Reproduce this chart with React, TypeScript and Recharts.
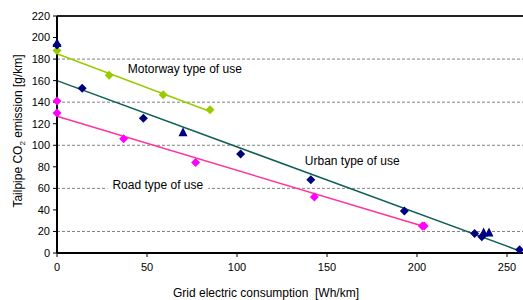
import {
  CartesianGrid,
  ComposedChart,
  Label,
  Line,
  ReferenceArea,
  ReferenceLine,
  Scatter,
  XAxis,
  YAxis,
  ZAxis,
} from 'recharts';

const xTicks = [0, 50, 100, 150, 200, 250];
const yTicks = [0, 20, 40, 60, 80, 100, 120, 140, 160, 180, 200, 220];

// measured points (Wh/km, g/km)
const urbanDiamonds = [
  { x: 0, y: 193 },
  { x: 14, y: 153 },
  { x: 48, y: 125 },
  { x: 102, y: 92 },
  { x: 141, y: 68 },
  { x: 193, y: 39 },
  { x: 232, y: 18 },
  { x: 236, y: 15 },
  { x: 257, y: 3 },
];
const urbanTriangles = [
  { x: 0, y: 195 },
  { x: 70, y: 112 },
  { x: 237, y: 19 },
  { x: 240, y: 19 },
];
const motorwayPoints = [
  { x: 0, y: 188 },
  { x: 29, y: 165 },
  { x: 59, y: 147 },
  { x: 85, y: 133 },
];
const roadPoints = [
  { x: 0, y: 141 },
  { x: 0, y: 130 },
  { x: 37, y: 106 },
  { x: 77, y: 84 },
  { x: 143, y: 52 },
  { x: 203, y: 25 },
  { x: 204, y: 25 },
];

// trend lines
const urbanTrend = [
  { x: 0, y: 160 },
  { x: 257, y: 2 },
];
const motorwayTrend = [
  { x: 0, y: 185 },
  { x: 84, y: 132 },
];
const roadTrend = [
  { x: 0, y: 127 },
  { x: 203, y: 25 },
];

const font = '"Liberation Sans", Arial, sans-serif';

const Diamond = (props: any) => {
  const { cx, cy, fill } = props;
  const r = 4.5;
  return (
    <polygon
      points={`${cx},${cy - r} ${cx + r},${cy} ${cx},${cy + r} ${cx - r},${cy}`}
      fill={fill}
    />
  );
};

const Triangle = (props: any) => {
  const { cx, cy, fill } = props;
  return (
    <polygon
      points={`${cx},${cy - 5} ${cx + 4.5},${cy + 4} ${cx - 4.5},${cy + 4}`}
      fill={fill}
    />
  );
};

const noteStyle = { fontSize: 12, fill: '#000', fontFamily: font };

export default function App() {
  return (
    <div
      style={{
        position: 'absolute',
        left: 0,
        top: 0,
        width: 523,
        height: 300,
        overflow: 'hidden',
        background: '#fff',
      }}
    >
      <ComposedChart
        width={526}
        height={300}
        margin={{ top: 16, right: 1, bottom: 0, left: 0 }}
      >
        <CartesianGrid
          vertical={false}
          stroke='#808080'
          strokeDasharray='3 2'
        />
        <XAxis
          type='number'
          dataKey='x'
          domain={[0, 260]}
          ticks={xTicks}
          height={47}
          tickSize={4}
          tickMargin={6}
          stroke='#000'
          axisLine={{ stroke: '#000', strokeWidth: 2 }}
          tick={{ fontSize: 11, fill: '#000', fontFamily: font }}
        >
          <Label
            content={() => (
              <text
                x={266}
                y={297}
                textAnchor='middle'
                fontSize={12}
                fontFamily={font}
                fill='#000'
              >
                Grid electric consumption {'\u00a0'}[Wh/km]
              </text>
            )}
          />
        </XAxis>
        <YAxis
          type='number'
          dataKey='y'
          domain={[0, 220]}
          ticks={yTicks}
          width={57}
          tickSize={4}
          tickMargin={3}
          stroke='#000'
          axisLine={{ stroke: '#000', strokeWidth: 2 }}
          tick={{ fontSize: 11, fill: '#000', fontFamily: font }}
        >
          <Label
            content={() => (
              <text
                x={22}
                y={131}
                transform='rotate(-90 22 131)'
                textAnchor='middle'
                fontSize={12}
                fontFamily={font}
                fill='#000'
              >
                Tailpipe CO
                <tspan fontSize={8} dy={3}>
                  2
                </tspan>
                <tspan dy={-3}> emission [g/km]</tspan>
              </text>
            )}
          />
        </YAxis>
        <ZAxis range={[60, 60]} />
        <ReferenceLine y={220} stroke='#222' strokeWidth={2} />

        <ReferenceArea
          x1={134}
          x2={194}
          y1={79}
          y2={93}
          fill='#fff'
          fillOpacity={1}
          stroke='none'
          label={{ value: 'Urban type of use', position: 'center', ...noteStyle }}
        />
        <ReferenceArea
          x1={28}
          x2={84}
          y1={57}
          y2={70}
          fill='#fff'
          fillOpacity={1}
          stroke='none'
          label={{ value: 'Road type of use', position: 'center', ...noteStyle }}
        />
        <ReferenceArea
          x1={40}
          x2={102}
          y1={165}
          y2={177}
          fill='#fff'
          fillOpacity={0}
          stroke='none'
          label={{ value: 'Motorway type of use', position: 'center', ...noteStyle }}
        />

        <Line
          data={urbanTrend}
          dataKey='y'
          stroke='#0f5f57'
          strokeWidth={1.5}
          dot={false}
          isAnimationActive={false}
        />
        <Line
          data={motorwayTrend}
          dataKey='y'
          stroke='#99cc00'
          strokeWidth={1.5}
          dot={false}
          isAnimationActive={false}
        />
        <Line
          data={roadTrend}
          dataKey='y'
          stroke='#ff3399'
          strokeWidth={1.5}
          dot={false}
          isAnimationActive={false}
        />

        <Scatter
          data={motorwayPoints}
          fill='#99cc00'
          shape={Diamond}
          isAnimationActive={false}
        />
        <Scatter
          data={roadPoints}
          fill='#ff00ff'
          shape={Diamond}
          isAnimationActive={false}
        />
        <Scatter
          data={urbanDiamonds}
          fill='#000080'
          shape={Diamond}
          isAnimationActive={false}
        />
        <Scatter
          data={urbanTriangles}
          fill='#000080'
          shape={Triangle}
          isAnimationActive={false}
        />
      </ComposedChart>
    </div>
  );
}
